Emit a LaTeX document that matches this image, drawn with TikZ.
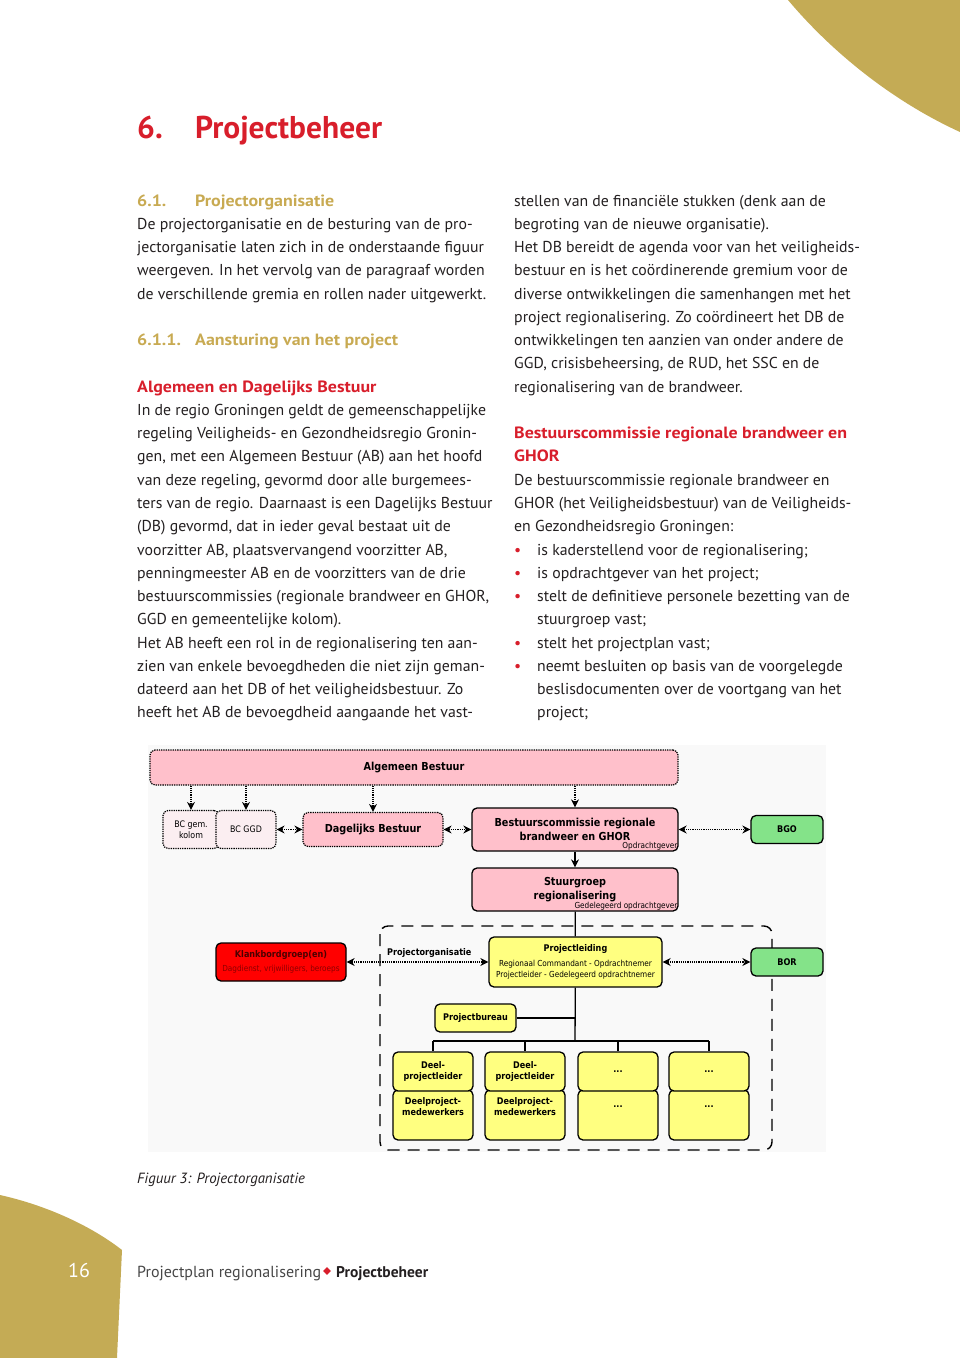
\documentclass[tikz,border=0pt]{standalone}
\usepackage{fontspec}
\setmainfont{PT Sans}
\newfontfamily\headfont{PT Sans}[FakeStretch=1.1]
\newfontfamily\diafont{DejaVu Sans}[FakeStretch=0.88]
\usetikzlibrary{arrows.meta}

\definecolor{gold}{HTML}{C4AB55}
\definecolor{hdgold}{HTML}{C8AA52}
\definecolor{titlered}{HTML}{D81E2B}
\definecolor{txt}{HTML}{231F20}
\definecolor{boxpink}{HTML}{FFC0CB}
\definecolor{palepink}{HTML}{FBEEF1}
\definecolor{boxgreen}{HTML}{84E389}
\definecolor{boxyellow}{HTML}{FFFF80}
\definecolor{boxred}{HTML}{FF0000}

\newcommand{\numhead}[2]{\makebox[58pt][l]{#1}#2}
\newcommand{\goldhd}[2]{\color{hdgold}\headfont\bfseries\fontsize{16.3}{18}\selectfont\makebox[58pt][l]{#1}#2}
\newcommand{\redhd}{\color{titlered}\headfont\bfseries\fontsize{16.3}{18}\selectfont}
\newcommand{\bul}{\makebox[23pt][l]{\textcolor{titlered}{\textbullet}}}
\newcommand{\bigb}{\diafont\bfseries\fontsize{11}{14}\selectfont}
\newcommand{\smallb}{\diafont\bfseries\fontsize{9.2}{11.5}\selectfont}
\newcommand{\tinyr}{\diafont\mdseries\fontsize{8.3}{11}\selectfont}
\newcommand{\tbd}{...}

\begin{document}
\begin{tikzpicture}[x=1pt,y=-1pt]
        \tikzstyle{body}=[anchor=base west,inner sep=0,text=txt,font=\fontsize{15.8}{18}\selectfont]
        \tikzstyle{dbox}=[draw,rounded corners=5pt,line width=1.3pt,align=center,inner sep=1pt]
        \tikzstyle{pinkdot}=[dbox,fill=boxpink,densely dotted,line width=1.2pt]
        \tikzstyle{pinkbox}=[dbox,fill=boxpink]
        \tikzstyle{bcbox}=[dbox,densely dotted,line width=1.2pt,fill=palepink,minimum height=38pt,font=\diafont\fontsize{9}{11}\selectfont]
        \tikzstyle{greenbox}=[dbox,fill=boxgreen,minimum width=72pt,minimum height=28pt,font=\smallb]
        \tikzstyle{yellowbox}=[dbox,fill=boxyellow,font=\smallb]
        \tikzstyle{tag}=[anchor=south east,inner sep=1pt,font=\tinyr]
        \tikzstyle{dotarr}=[densely dotted,line width=1.2pt,-{Stealth[length=8pt,width=8pt]}]
        \tikzstyle{dotdbl}=[densely dotted,line width=1.2pt,{Stealth[length=8pt,width=8pt]}-{Stealth[length=8pt,width=8pt]}]
        \tikzstyle{solid line}=[line width=1.3pt]
        \useasboundingbox (0,0) rectangle (960,1358);

        % page decoration
        \fill[gold] (788,0) .. controls (830,50) and (890,100) .. (960,132) -- (960,0) -- cycle;
        \fill[gold] (0,1195) .. controls (45,1205) and (90,1225) .. (122,1250) -- (117,1358) -- (0,1358) -- cycle;
        \node[text=white,font=\fontsize{20}{22}\selectfont] (pgno) at (79,1270) {16};

        % title
        \node[anchor=base west,inner sep=0,text=titlered,font=\bfseries\fontsize{31.5}{34}\selectfont] (title) at (137,138) {\numhead{6.}{Projectbeheer}};

        % left column
        \foreach \ln [count=\i from 0] in {
          {\goldhd{6.1.}{Projectorganisatie}},
          De projectorganisatie en de besturing van de pro-,
          jectorganisatie laten zich in de onderstaande figuur,
          weergeven. In het vervolg van de paragraaf worden,
          de verschillende gremia en rollen nader uitgewerkt.,
          {},
          {\goldhd{6.1.1.}{Aansturing van het project}},
          {},
          {\redhd Algemeen en Dagelijks Bestuur},
          In de regio Groningen geldt de gemeenschappelijke,
          regeling Veiligheids- en Gezondheidsregio Gronin-,
          {gen, met een Algemeen Bestuur (AB) aan het hoofd},
          {van deze regeling, gevormd door alle burgemees-},
          ters van de regio. Daarnaast is een Dagelijks Bestuur,
          {(DB) gevormd, dat in ieder geval bestaat uit de},
          {voorzitter AB, plaatsvervangend voorzitter AB,},
          penningmeester AB en de voorzitters van de drie,
          {bestuurscommissies (regionale brandweer en GHOR,},
          GGD en gemeentelijke kolom).,
          Het AB heeft een rol in de regionalisering ten aan-,
          zien van enkele bevoegdheden die niet zijn geman-,
          dateerd aan het DB of het veiligheidsbestuur. Zo,
          heeft het AB de bevoegdheid aangaande het vast-}
          \node[body] (left\i) at (137,{206+23.27*\i}) {\ln};

        % right column
        \foreach \ln [count=\i from 0] in {
          stellen van de financiële stukken (denk aan de,
          begroting van de nieuwe organisatie).,
          Het DB bereidt de agenda voor van het veiligheids-,
          bestuur en is het coördinerende gremium voor de,
          diverse ontwikkelingen die samenhangen met het,
          project regionalisering. Zo coördineert het DB de,
          ontwikkelingen ten aanzien van onder andere de,
          {GGD, crisisbeheersing, de RUD, het SSC en de},
          regionalisering van de brandweer.,
          {},
          {\redhd Bestuurscommissie regionale brandweer en},
          {\redhd GHOR},
          De bestuurscommissie regionale brandweer en,
          GHOR (het Veiligheidsbestuur) van de Veiligheids-,
          en Gezondheidsregio Groningen:,
          {\bul is kaderstellend voor de regionalisering;},
          {\bul is opdrachtgever van het project;},
          {\bul stelt de definitieve personele bezetting van de},
          {\hspace*{23pt}stuurgroep vast;},
          {\bul stelt het projectplan vast;},
          {\bul neemt besluiten op basis van de voorgelegde},
          {\hspace*{23pt}beslisdocumenten over de voortgang van het},
          {\hspace*{23pt}project;}}
          \node[body] (right\i) at (514,{206+23.27*\i}) {\ln};

        % figure
        \fill[gray!5] (148,745) rectangle (826,1152);
        \draw[line width=1.4pt,dash pattern=on 12pt off 8pt,rounded corners=8pt] (380,926) rectangle (772,1150);
        \node[anchor=base west,inner sep=0,font=\smallb] (porg) at (387,955) {Projectorganisatie};

        \node[pinkdot,minimum width=528pt,minimum height=35pt,font=\bigb] (ab) at (414,767.5) {Algemeen Bestuur};
        \node[bcbox,minimum width=56pt] (bcgem) at (191,829.5) {BC gem.\\kolom};
        \node[bcbox,minimum width=60pt] (bcggd) at (246,829.5) {BC GGD};
        \node[pinkdot,minimum width=140pt,minimum height=34pt,font=\bigb] (db) at (373,829.5) {Dagelijks Bestuur};
        \node[pinkbox,minimum width=206pt,minimum height=43pt,font=\bigb] (bcrb) at (575,829.5) {Bestuurscommissie regionale\\brandweer en GHOR};
        \node[tag] (bcrbtag) at (bcrb.south east) {Opdrachtgever};
        \node[greenbox] (bgo) at (787,829.5) {BGO};
        \node[pinkbox,minimum width=206pt,minimum height=43pt,font=\bigb] (sg) at (575,889.5) {Stuurgroep\\regionalisering};
        \node[tag] (sgtag) at (sg.south east) {Gedelegeerd opdrachtgever};

        \node[dbox,fill=boxred,minimum width=130pt,minimum height=38pt] (kbg) at (281,962)
          {{\smallb\color{red!30!black}Klankbordgroep(en)}\\[2pt]{\tinyr\color{red!55!black}Dagdienst, vrijwilligers, beroeps}};
        \node[yellowbox,minimum width=173pt,minimum height=50pt] (pl) at (575.5,962)
          {Projectleiding\\[3pt]{\tinyr Regionaal Commandant - Opdrachtnemer}\\{\tinyr Projectleider - Gedelegeerd opdrachtnemer}};
        \node[greenbox] (bor) at (787,962) {BOR};
        \node[yellowbox,minimum width=81pt,minimum height=28pt] (pb) at (475.5,1018) {Projectbureau};

        \foreach \k/\cx/\up/\down in {1/433/{Deel-\\projectleider}/{Deelproject-\\medewerkers},
                                       2/525/{Deel-\\projectleider}/{Deelproject-\\medewerkers},
                                       3/618/\tbd/\tbd,
                                       4/709/\tbd/\tbd} {
          \node[yellowbox,minimum width=80pt,minimum height=50pt] (mw\k) at (\cx,1115) {\down\\[6pt]};
          \node[yellowbox,minimum width=80pt,minimum height=39pt] (dp\k) at (\cx,1071.5) {\up};
        }

        % connectors
        \draw[dotarr] (ab.south -| bcgem) -- (bcgem.north);
        \draw[dotarr] (ab.south -| bcggd) -- (bcggd.north);
        \draw[dotarr] (ab.south -| db) -- (db.north);
        \draw[dotarr] (ab.south -| bcrb) -- (bcrb.north);
        \draw[dotdbl] (bcggd) -- (db);
        \draw[dotdbl] (db) -- (bcrb);
        \draw[dotdbl] (bcrb) -- (bgo);
        \draw[solid line,-{Stealth[length=8pt,width=8pt]}] (bcrb) -- (sg);
        \draw[solid line] (sg) -- (pl);
        \draw[dotdbl] (kbg) -- (pl);
        \draw[dotdbl] (pl) -- (bor);
        \coordinate (bus) at (575,1041);
        \draw[solid line] (pl) -- (bus);
        \draw[solid line] (pb) -- (pb -| pl);
        \draw[solid line] (bus -| dp1) -- (bus -| dp4);
        \foreach \k in {1,...,4}
          \draw[solid line] (bus -| dp\k) -- (dp\k.north);

        % caption and footer
        \node[anchor=base west,inner sep=0,text=txt,font=\itshape\fontsize{14.8}{16}\selectfont] (caption) at (137,1183) {Figuur 3: Projectorganisatie};
        \node[anchor=base west,inner sep=0,text=black!72,font=\fontsize{16}{18}\selectfont] (foot) at (137,1277) {Projectplan regionalisering};
        \node[fill=titlered,minimum size=5.5pt,inner sep=0,rotate=45] (dia) at (327,1271) {};
        \node[anchor=base west,inner sep=0,text=txt,font=\bfseries\fontsize{15.5}{18}\selectfont] (foothd) at (336,1277) {Projectbeheer};
\end{tikzpicture}
\end{document}
